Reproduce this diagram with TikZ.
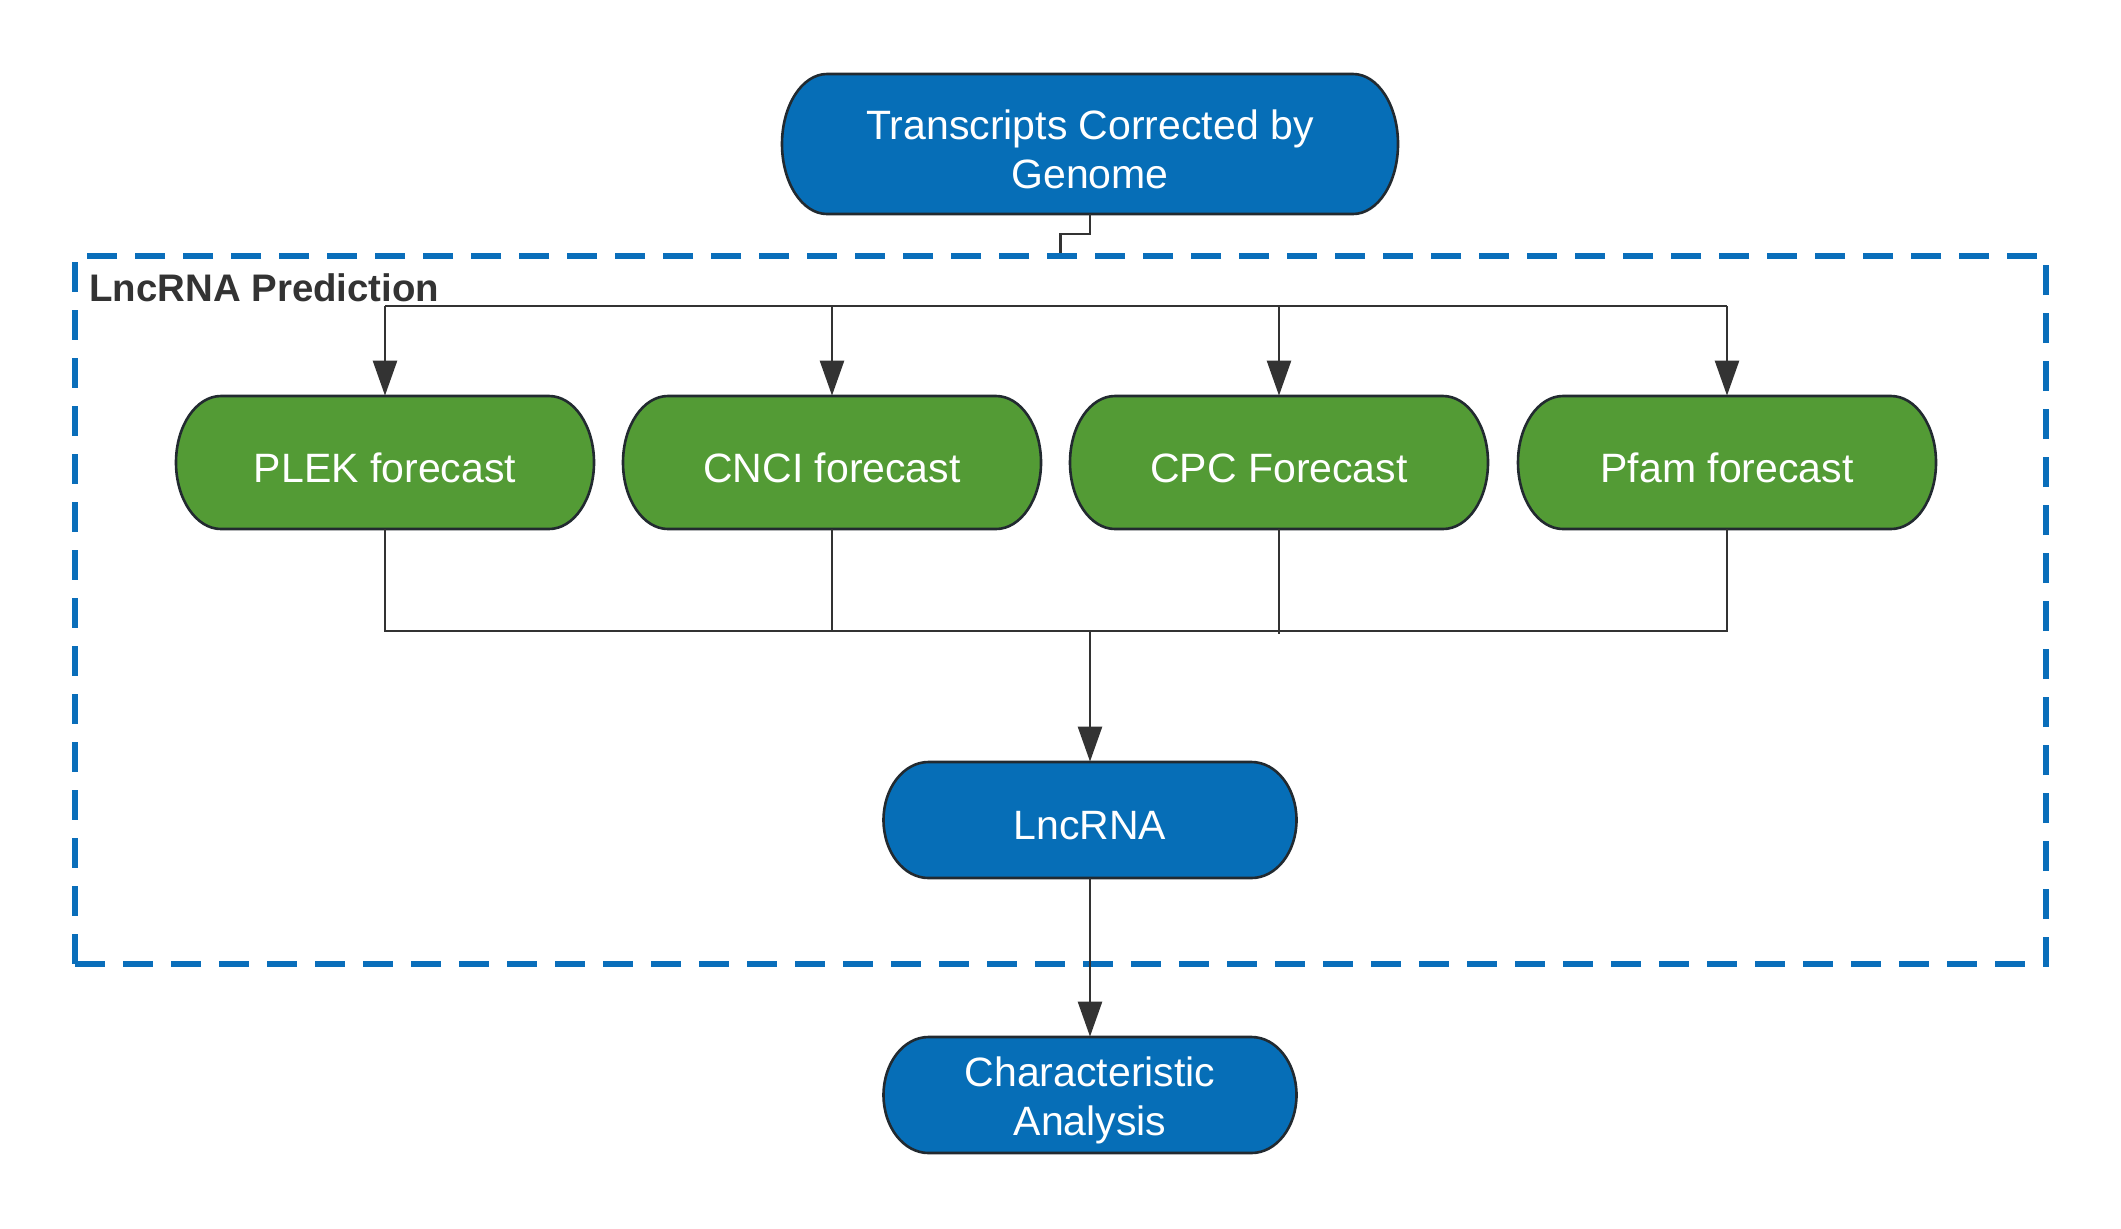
\documentclass[tikz,border=0pt]{standalone}
\usepackage{fontspec}
\setmainfont{Liberation Sans}
\usetikzlibrary{arrows.meta}
\definecolor{nodeblue}{HTML}{066EB7}
\definecolor{dashblue}{HTML}{0A6EBA}
\definecolor{nodegreen}{HTML}{539B35}
\definecolor{borderdark}{HTML}{222A30}
\definecolor{linedark}{HTML}{333333}
\tikzset{
  capsuleborder/.style={draw=borderdark, line width=1.3pt},
  nodetext/.style={inner sep=0pt, align=center, text=white,
    font=\fontsize{20.5pt}{24.5pt}\selectfont},
  conn/.style={draw=linedark, line width=1.3pt},
  arr/.style={conn, -{Triangle[length=17.5pt,width=12pt]}},
  groupbox/.style={draw=dashblue, line width=3pt, dash pattern=on 15pt off 9pt,
    inner sep=0pt},
}
\newcommand\capsule[7]{%
  \filldraw[capsuleborder, fill=#6] ({#2-#4/2+45},{#3-#5/2}) -- ({#2+#4/2-45},{#3-#5/2})
    arc[start angle=90, end angle=-90, x radius=22.5pt, y radius=#5*0.25pt]
    -- ({#2-#4/2+45},{#3+#5/2})
    arc[start angle=270, end angle=90, x radius=22.5pt, y radius=#5*0.25pt] -- cycle;
  \node[inner sep=0pt, minimum width=#4*0.5pt, minimum height=#5*0.5pt] (#1) at (#2,#3) {};
  \node[nodetext] (#1-text) at (#2,{#3+5.5}) {#7};
}
\begin{document}
\begin{tikzpicture}[x=0.5pt,y=-0.5pt]
\useasboundingbox[fill=white] (0,0) rectangle (2121,1228);

% group box
\node[groupbox, minimum width=985.5pt, minimum height=354pt] (box) at (1060.5,610) {};
\node[anchor=base west, inner sep=0pt, text=linedark,
  font=\bfseries\fontsize{19.2pt}{22pt}\selectfont] (lbl) at (89,301) {LncRNA Prediction};

% nodes
\capsule{top}{1090}{144}{616}{140}{nodeblue}{Transcripts Corrected by\\Genome}
\capsule{plek}{385}{462.5}{418}{133}{nodegreen}{PLEK forecast}
\capsule{cnci}{832}{462.5}{418}{133}{nodegreen}{CNCI forecast}
\capsule{cpc}{1279}{462.5}{418}{133}{nodegreen}{CPC Forecast}
\capsule{pfam}{1727}{462.5}{418}{133}{nodegreen}{Pfam forecast}
\capsule{lnc}{1090}{820}{413}{116}{nodeblue}{LncRNA}
\capsule{chr}{1090}{1095}{413}{116}{nodeblue}{Characteristic\\Analysis}

% coordinates
\coordinate (s1) at (1090,234);
\coordinate (t1) at (385,306);
\coordinate (t2) at (832,306);
\coordinate (t3) at (1279,306);
\coordinate (t4) at (1727,306);
\coordinate (b1) at (385,631);
\coordinate (b2) at (832,631);
\coordinate (b3) at (1279,634);
\coordinate (b4) at (1727,631);
\coordinate (bm) at (1090,631);

% connectors
\draw[conn] (top.south) -- (s1) -| (box.north);
\draw[conn] (t1) -- (t4);
\draw[arr] (t1) -- (plek.north);
\draw[arr] (t2) -- (cnci.north);
\draw[arr] (t3) -- (cpc.north);
\draw[arr] (t4) -- (pfam.north);
\draw[conn] (plek.south) -- (b1) -- (b4) -- (pfam.south);
\draw[conn] (cnci.south) -- (b2);
\draw[conn] (cpc.south) -- (b3);
\draw[arr] (bm) -- (lnc.north);
\draw[arr] (lnc.south) -- (chr.north);
\end{tikzpicture}
\end{document}
